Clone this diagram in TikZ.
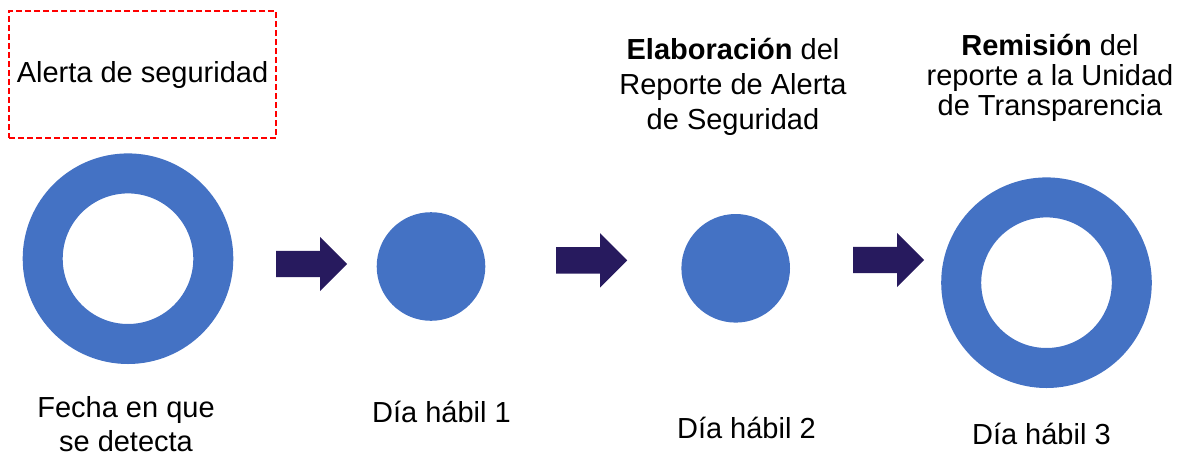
\documentclass[tikz,border=0pt]{standalone}
\usepackage{fontspec}
\setmainfont{Liberation Sans}
\usepackage{xcolor}
\usepackage{tikz}
\usetikzlibrary{positioning, shapes.arrows}
\definecolor{azul}{HTML}{4472C4}
\definecolor{morado}{HTML}{271A5E}

\begin{document}
\begin{tikzpicture}[
        x=1pt, y=-1pt,
        every node/.style={font=\fontsize{29}{35}\selectfont},
        anillo/.style={circle, draw=azul, line width=40pt,
        minimum size=170.6pt, inner sep=0pt},
        disco/.style={circle, fill=azul, minimum size=108.6pt, inner sep=0pt},
        flecha/.style={single arrow, fill=morado, inner xsep=0pt, inner ysep=13pt,
        minimum height=71pt, minimum width=54pt,
        single arrow head extend=14pt, single arrow head indent=0pt},
        alerta/.style={draw=red, dash pattern=on 6pt off 3pt, line width=1.5pt,
        minimum width=267pt, minimum height=127pt, inner sep=0pt},
        titulo/.style={align=center},
        dia/.style={font=\fontsize{29}{34}\selectfont, align=center},
      ]

      \useasboundingbox (0,0) rectangle (1184,458);

      \node[alerta] (alerta) at (142.5,74.5) {Alerta de seguridad};

      \node[anillo] (deteccion) at (128,258.7) {};
      \node[disco] (dia1) at (431,266.5) {};
      \node[disco] (dia2) at (735.7,268.3) {};
      \node[anillo] (dia3) at (1046.5,282.7) {};

      \node[flecha, anchor=tail] (f1) at (276,264) {};
      \node[flecha, anchor=tail] (f2) at (556,260.3) {};
      \node[flecha, anchor=tail] (f3) at (853,260) {};

      \node[titulo] (elaboracion) at (733,87)
        {\textbf{Elaboración} del\\ Reporte de Alerta\\ de Seguridad};
      \node[titulo, font=\fontsize{29}{30}\selectfont] (remision) at (1050,78)
        {\textbf{Remisión} del\\ reporte a la Unidad\\ de Transparencia};

      \node[dia, inner sep=1pt] (fecha) at (126,424.5) {Fecha en que\\ se detecta};
      \node[dia, anchor=base] (txt1) at (441.5,422) {Día hábil 1};
      \node[dia, anchor=base] (txt2) at (746.4,438.8) {Día hábil 2};
      \node[dia, anchor=base] (txt3) at (1041.4,444) {Día hábil 3};

    \end{tikzpicture}
\end{document}
